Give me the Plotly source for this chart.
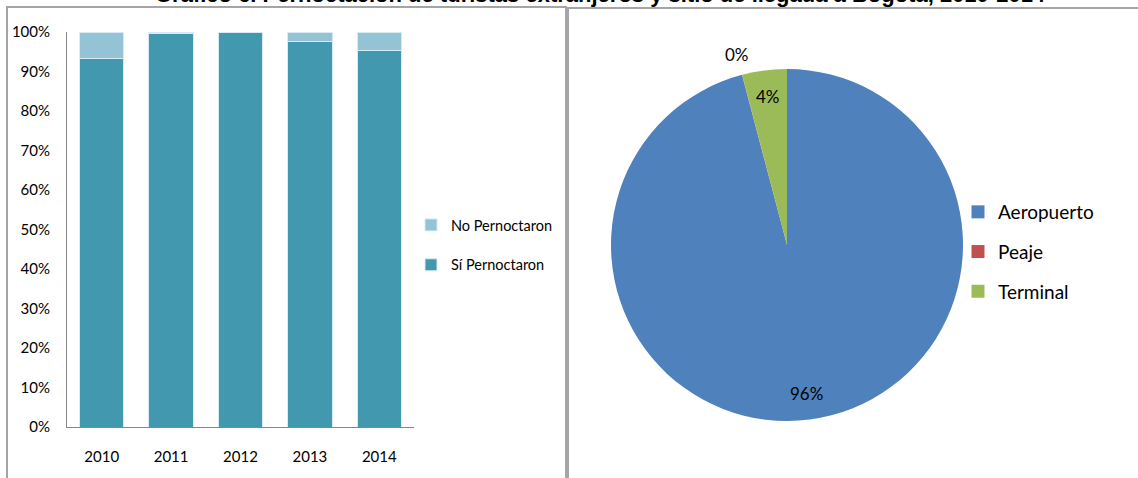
import math
import plotly.graph_objects as go

# --- data ---
years = ['2010', '2011', '2012', '2013', '2014']
si_pernoctaron = [0.932, 0.995, 1.0, 0.977, 0.952]
no_pernoctaron = [0.068, 0.005, 0.0, 0.023, 0.048]

sitios = ['Aeropuerto', 'Peaje', 'Terminal']
sitio_share = [95.9, 0.02, 4.1]
sitio_colors = ['#4F81BD', '#C0504D', '#9BBB59']

title_text = 'Gráfico 6. Pernoctación de turistas extranjeros y sitio de llegada a Bogotá, 2010-2014'

W, H = 1138, 478
FONT = 'Lato, Liberation Sans, sans-serif'


def px(x):
    return x / W


def py(y):
    # pixel from top -> paper from bottom
    return 1 - y / H


fig = go.Figure()

fig.add_trace(go.Bar(
    x=years, y=si_pernoctaron, name='Sí Pernoctaron',
    marker=dict(color='#4198AF', line=dict(color='#D6ECF2', width=1)),
    legendgroup='si', legendrank=2, legend='legend',
))
fig.add_trace(go.Bar(
    x=years, y=no_pernoctaron, name='No Pernoctaron',
    marker=dict(color='#93C3D5', line=dict(color='#D6ECF2', width=1)),
    legendgroup='no', legendrank=1, legend='legend',
))

# pie, centre and radius in pixels
cx, cy, r = 787, 245, 176
fig.add_trace(go.Pie(
    labels=sitios, values=sitio_share, textinfo='none', sort=False,
    direction='clockwise', rotation=0, hoverinfo='label+percent',
    marker=dict(colors=sitio_colors, line=dict(width=0)),
    domain=dict(x=[px(cx - r), px(cx + r)], y=[py(cy + r), py(cy - r)]),
    showlegend=False,
))

# pie legend entries (spaced like the original)
for name, col in zip(sitios, sitio_colors):
    fig.add_trace(go.Scatter(
        x=[None], y=[None], mode='markers', name=name,
        marker=dict(symbol='square', size=13, color=col),
        legend='legend2', legendgroup=name, showlegend=True,
    ))

# percentage labels around the pie
total = sum(sitio_share)
cum = 0
for v in sitio_share:
    share = v / total
    ang = 2 * math.pi * (cum + share / 2)
    cum += share
    k = 0.85 if share >= 0.01 else 1.12
    fig.add_annotation(
        text=f'{share:.0%}', xref='paper', yref='paper',
        x=px(cx + k * r * math.sin(ang)), y=py(cy - k * r * math.cos(ang)),
        xanchor='center', yanchor='middle',
        showarrow=False, font=dict(size=17, color='#000000'),
    )

fig.update_layout(
    width=W, height=H,
    margin=dict(l=0, r=0, t=0, b=0, autoexpand=False),
    paper_bgcolor='white', plot_bgcolor='white',
    barmode='stack', bargap=0.36,
    font=dict(family=FONT, size=15, color='#000000'),
    xaxis=dict(domain=[px(67), px(414)], showline=True, linecolor='#868686',
               linewidth=1, ticks='', showgrid=False, ticklabelstandoff=16,
               tickfont=dict(size=15)),
    yaxis=dict(domain=[py(427), py(32)], range=[0, 1], tickformat='.0%',
               dtick=0.1, showline=True, linecolor='#868686', linewidth=1,
               showgrid=False, zeroline=False, ticks='', ticklabelstandoff=13,
               tickfont=dict(size=15)),
    legend=dict(x=px(411), y=py(209), xanchor='left', yanchor='top',
                traceorder='grouped', tracegroupgap=18,
                font=dict(size=14.5), bgcolor='rgba(0,0,0,0)'),
    legend2=dict(x=px(958), y=py(193), xanchor='left', yanchor='top',
                 traceorder='grouped', tracegroupgap=12,
                 font=dict(size=19), bgcolor='rgba(0,0,0,0)'),
    showlegend=True,
)

# chart frames
fig.add_shape(type='rect', xref='paper', yref='paper',
              x0=px(7), x1=px(566), y0=py(H + 5), y1=py(7),
              line=dict(color='#A5A5A5', width=2))
fig.add_shape(type='rect', xref='paper', yref='paper',
              x0=px(568), x1=px(W + 5), y0=py(H + 5), y1=py(8),
              line=dict(color='#A5A5A5', width=2))

# title, mostly cut off at the top of the picture
fig.add_annotation(text='<b>' + title_text + '</b>', xref='paper', yref='paper',
                   x=px(600), y=py(9), xanchor='center', yanchor='bottom',
                   showarrow=False,
                   font=dict(family='Liberation Sans, Arial, sans-serif', size=22, color='#000000'))

fig.write_html('out.html', config={'displayModeBar': False},
               post_script="document.body.style.margin='0';")
